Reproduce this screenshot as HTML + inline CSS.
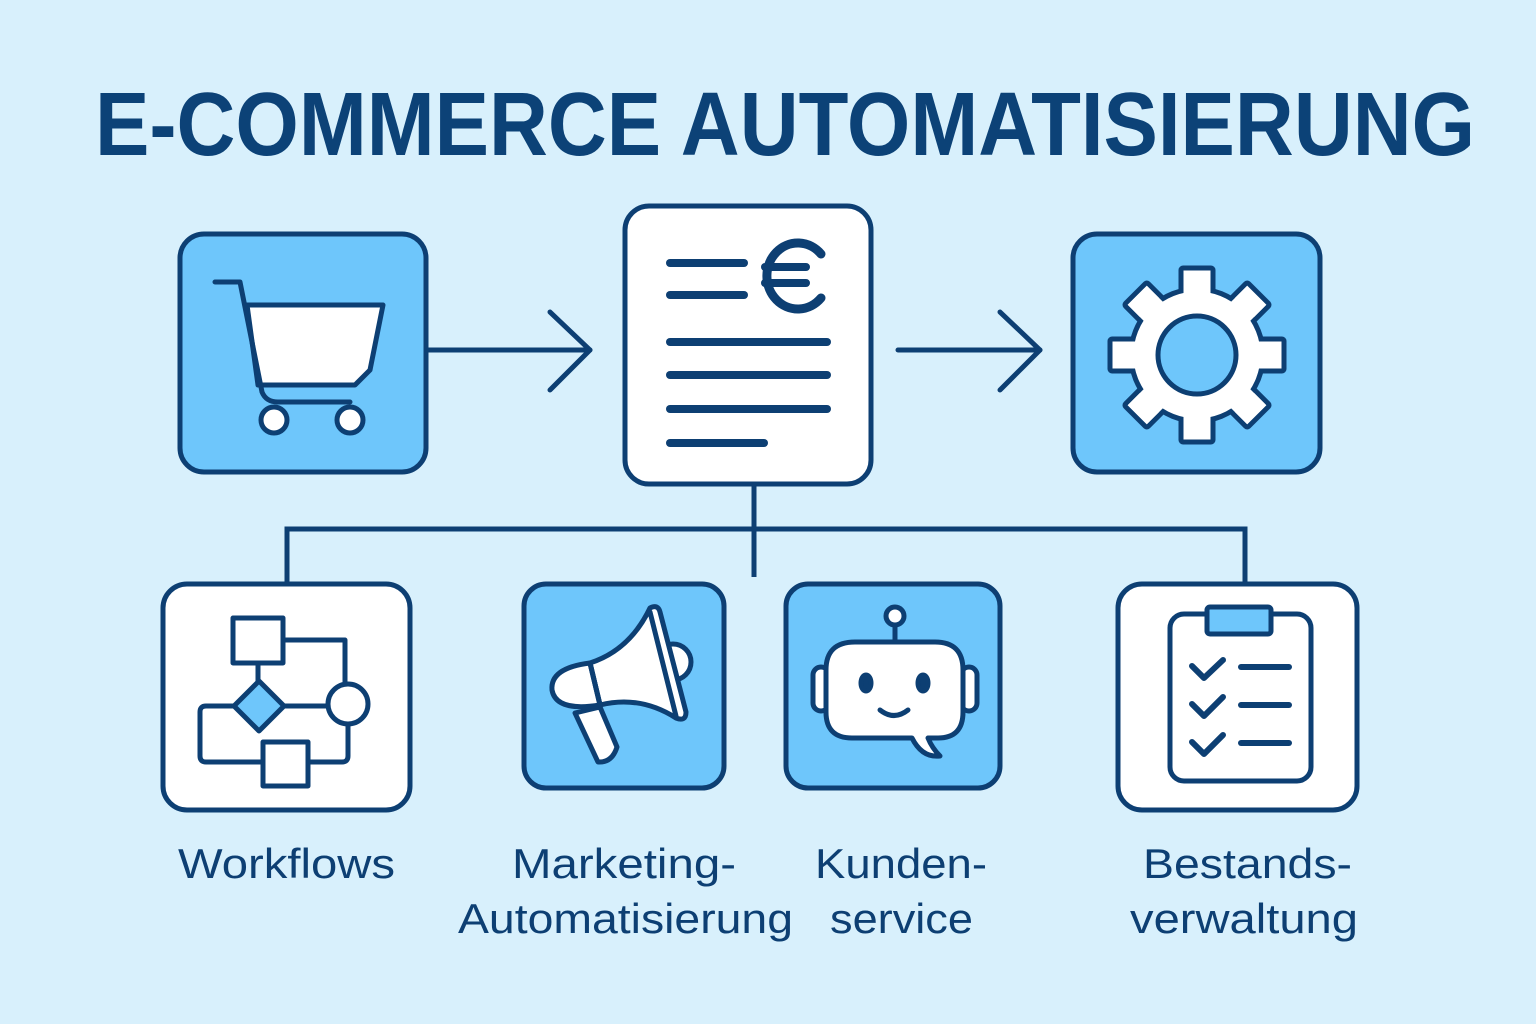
<!DOCTYPE html>
<html><head><meta charset="utf-8"><style>
html,body{margin:0;padding:0;background:#d8f0fc;}
svg{display:block;}
text{font-family:"Liberation Sans",sans-serif;fill:#0d3f73;}
</style></head><body>
<svg width="1536" height="1024" viewBox="0 0 1536 1024" xmlns="http://www.w3.org/2000/svg">
<rect width="1536" height="1024" fill="#d8f0fc"/>
<text x="95" y="155" font-size="90" font-weight="bold" textLength="1380" lengthAdjust="spacingAndGlyphs" style="fill:#0c4277">E-COMMERCE AUTOMATISIERUNG</text>

<g stroke="#0d3f73" stroke-width="5" stroke-linecap="round" stroke-linejoin="round" fill="none">
<!-- connectors -->
<line x1="428" y1="350" x2="590" y2="350"/>
<polyline points="550,312 590,350 550,390"/>
<line x1="898" y1="350" x2="1040" y2="350"/>
<polyline points="1000,312 1040,350 1000,390"/>
<line x1="754" y1="484" x2="754" y2="577" stroke-linecap="butt"/>
<polyline points="287,582 287,529 1245,529 1245,582" stroke-linecap="butt" stroke-linejoin="miter"/>

<!-- top boxes -->
<rect x="180" y="234" width="246" height="238" rx="24" fill="#6ec6fb"/>
<rect x="625" y="206" width="246" height="278" rx="24" fill="#fff"/>
<rect x="1073" y="234" width="247" height="238" rx="24" fill="#6ec6fb"/>

<!-- cart -->
<polygon points="247,305 383,305 370,370 355,385 258,385" fill="#fff"/>
<path d="M215,282 H240 L262,392 Q266,402 278,402 H350"/>
<circle cx="274" cy="420" r="13" fill="#fff"/>
<circle cx="350" cy="420" r="13" fill="#fff"/>

<!-- doc -->
<g stroke-width="8">
<line x1="670" y1="263" x2="744" y2="263"/>
<line x1="670" y1="295" x2="744" y2="295"/>
<line x1="670" y1="342" x2="827" y2="342"/>
<line x1="670" y1="375" x2="827" y2="375"/>
<line x1="670" y1="409" x2="827" y2="409"/>
<line x1="670" y1="443" x2="764" y2="443"/>
<path d="M821,254 A31,33 0 1 0 821,298" stroke-width="9"/>
<line x1="765" y1="267" x2="806" y2="267"/>
<line x1="765" y1="283" x2="806" y2="283"/>
</g>

<!-- gear -->
<g transform="translate(1197,355)">
<g fill="#fff">
<rect x="-16" y="-87" width="32" height="30" rx="2"/>
<rect x="-16" y="-87" width="32" height="30" rx="2" transform="rotate(45)"/>
<rect x="-16" y="-87" width="32" height="30" rx="2" transform="rotate(90)"/>
<rect x="-16" y="-87" width="32" height="30" rx="2" transform="rotate(135)"/>
<rect x="-16" y="-87" width="32" height="30" rx="2" transform="rotate(180)"/>
<rect x="-16" y="-87" width="32" height="30" rx="2" transform="rotate(225)"/>
<rect x="-16" y="-87" width="32" height="30" rx="2" transform="rotate(270)"/>
<rect x="-16" y="-87" width="32" height="30" rx="2" transform="rotate(315)"/>
</g>
<circle r="66" fill="#fff"/>
<g fill="#fff" stroke="none">
<rect x="-13.5" y="-84.5" width="27" height="30"/>
<rect x="-13.5" y="-84.5" width="27" height="30" transform="rotate(45)"/>
<rect x="-13.5" y="-84.5" width="27" height="30" transform="rotate(90)"/>
<rect x="-13.5" y="-84.5" width="27" height="30" transform="rotate(135)"/>
<rect x="-13.5" y="-84.5" width="27" height="30" transform="rotate(180)"/>
<rect x="-13.5" y="-84.5" width="27" height="30" transform="rotate(225)"/>
<rect x="-13.5" y="-84.5" width="27" height="30" transform="rotate(270)"/>
<rect x="-13.5" y="-84.5" width="27" height="30" transform="rotate(315)"/>
</g>
<circle r="39" fill="#6ec6fb"/>
</g>

<!-- bottom boxes -->
<rect x="163" y="584" width="247" height="226" rx="24" fill="#fff"/>
<rect x="524" y="584" width="200" height="204" rx="22" fill="#6ec6fb"/>
<rect x="786" y="584" width="214" height="204" rx="22" fill="#6ec6fb"/>
<rect x="1118" y="584" width="239" height="226" rx="24" fill="#fff"/>

<!-- workflow -->
<path d="M283,640 H345 V684"/>
<path d="M258,663 V681"/>
<path d="M284,706 H328"/>
<path d="M234,706 H206 Q200,706 200,712 V756 Q200,762 206,762 H263"/>
<path d="M308,762 H342 Q348,762 348,756 V724"/>
<rect x="233" y="618" width="50" height="45" fill="#fff"/>
<polygon points="259,681 284,706 259,731 234,706" fill="#6ec6fb"/>
<circle cx="348" cy="704" r="20" fill="#fff"/>
<rect x="263" y="742" width="45" height="44" fill="#fff"/>

<!-- megaphone -->
<circle cx="673" cy="662" r="18" fill="#fff"/>
<path d="M575,713 L600,707 L617,747 Q612,763 598,762 Z" fill="#fff"/>
<path d="M590,663 Q630,650 650,608 Q658,604 660,612 L686,712 Q686,722 676,718 Q640,695 600,705 Z" fill="#fff"/>
<path d="M590,663 Q550,668 552,690 Q556,712 600,705 Z" fill="#fff"/>
<line x1="590" y1="663" x2="600" y2="705"/>
<line x1="650" y1="612" x2="676" y2="716"/>

<!-- robot -->
<line x1="895" y1="624" x2="895" y2="642"/>
<circle cx="895" cy="616" r="9" fill="#fff"/>
<rect x="813" y="667" width="16" height="44" rx="8" fill="#fff"/>
<rect x="961" y="667" width="16" height="44" rx="8" fill="#fff"/>
<path d="M855,642 H935 Q963,642 963,670 V712 Q963,738 938,738 H928 Q932,748 940,756 Q922,758 912,738 H852 Q826,738 826,712 V670 Q826,642 855,642 Z" fill="#fff"/>
<ellipse cx="866" cy="683" rx="5" ry="8" fill="#0d3f73"/>
<ellipse cx="923" cy="683" rx="5" ry="8" fill="#0d3f73"/>
<path d="M880,710 Q894,721 908,710"/>

<!-- clipboard -->
<rect x="1170" y="614" width="141" height="167" rx="14" fill="#fff"/>
<rect x="1207" y="607" width="64" height="27" rx="3" fill="#6ec6fb"/>
<g stroke-width="6">
<polyline points="1192,666 1204,678 1223,660"/>
<polyline points="1192,704 1204,716 1223,697"/>
<polyline points="1192,742 1204,754 1223,735"/>
<line x1="1241" y1="667" x2="1289" y2="667"/>
<line x1="1241" y1="705" x2="1289" y2="705"/>
<line x1="1241" y1="743" x2="1289" y2="743"/>
</g>
</g>

<g font-size="42">
<text x="178" y="878" textLength="217" lengthAdjust="spacingAndGlyphs">Workflows</text>
<text x="512" y="878" textLength="224" lengthAdjust="spacingAndGlyphs">Marketing-</text>
<text x="458" y="933" textLength="335" lengthAdjust="spacingAndGlyphs">Automatisierung</text>
<text x="815" y="878" textLength="172" lengthAdjust="spacingAndGlyphs">Kunden-</text>
<text x="830" y="933" textLength="143" lengthAdjust="spacingAndGlyphs">service</text>
<text x="1143" y="878" textLength="209" lengthAdjust="spacingAndGlyphs">Bestands-</text>
<text x="1130" y="933" textLength="228" lengthAdjust="spacingAndGlyphs">verwaltung</text>
</g>
</svg>
</body></html>
